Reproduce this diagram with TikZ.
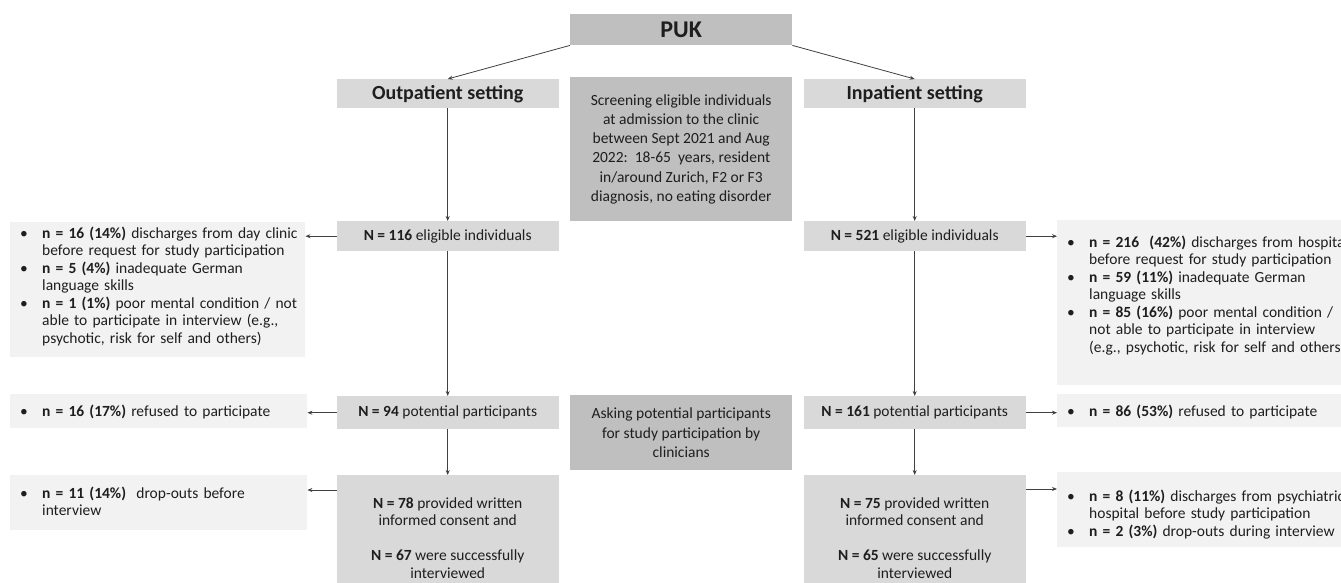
\documentclass[tikz,border=0pt]{standalone}
\usepackage{fontspec}
\setmainfont{Carlito}
\usepackage{tikz}
\usetikzlibrary{arrows.meta,positioning}
\definecolor{darkbox}{RGB}{191,191,191}
\definecolor{midbox}{RGB}{217,217,217}
\definecolor{lightbox}{RGB}{242,242,242}
\definecolor{inkgray}{RGB}{30,30,30}
\definecolor{linegray}{RGB}{64,64,64}
\newcommand{\bul}{\textbullet}

\begin{document}
\begin{tikzpicture}[x=1pt,y=-1pt,
    base/.style={anchor=north west,inner sep=0pt,text=inkgray,font=\fontsize{15.5}{17.5}\selectfont},
    setbox/.style={base,fill=midbox,minimum width=222pt,minimum height=29pt,font=\fontsize{20}{24}\selectfont\bfseries},
    countbox/.style={base,fill=midbox,minimum width=222pt,align=center},
    infobox/.style={base,fill=darkbox,minimum width=222pt,align=center,font=\fontsize{15.5}{19.3}\selectfont},
    exclbox/.style={base,fill=lightbox,inner xsep=10pt,align=left},
    arr/.style={draw=linegray,line width=0.8pt,-{Stealth[length=5pt,width=4pt]}}]
    \useasboundingbox (0,0) rectangle (1341,583);
    % top of the tree
    \node[base,fill=darkbox,minimum width=222pt,minimum height=31pt,font=\fontsize{24}{28}\selectfont\bfseries] (puk) at (570,14) {PUK};
    \node[setbox] (outset) at (336.5,79) {Outpatient setting};
    \node[setbox] (inset) at (803.5,79) {Inpatient setting};
    % middle column
    \node[infobox,minimum height=144pt] (screen) at (570,77) {Screening eligible individuals\\at admission to the clinic\\between Sept 2021 and Aug\\2022:\ \ 18-65\ \ years, resident\\in/around Zurich, F2 or F3\\diagnosis, no eating disorder};
    \node[infobox,minimum height=75pt] (asking) at (570,395) {Asking potential participants\\for study participation by\\clinicians};
    % counts
    \node[countbox,minimum height=30pt] (out116) at (336.5,221) {\textbf{N = 116} eligible individuals};
    \node[countbox,minimum height=30pt] (in521) at (803.5,221) {\textbf{N = 521} eligible individuals};
    \node[countbox,minimum height=33pt] (out94) at (336.5,396) {\textbf{N = 94} potential participants};
    \node[countbox,minimum height=33pt] (in161) at (803.5,396) {\textbf{N = 161} potential participants};
    \node[countbox,minimum height=125pt] (out78) at (336.5,475) {\textbf{N = 78} provided written\\informed consent and\\[17.5pt]\textbf{N = 67} were successfully\\interviewed};
    \node[countbox,minimum height=125pt] (in75) at (803.5,475) {\textbf{N = 75} provided written\\informed consent and\\[17.5pt]\textbf{N = 65} were successfully\\interviewed};
    % exclusions, left
    \node[exclbox,text width=275pt,text height=16pt,text depth=119pt] (outex1) at (10,222) {\begin{tabular}[t]{@{}p{22pt}@{}l@{}}
      \bul & \textbf{n = 16 (14\%)} discharges from day clinic\\
           & before request for study participation\\
      \bul & \textbf{n = 5 (4\%)} inadequate German\\
           & language skills\\
      \bul & \textbf{n = 1 (1\%)} poor mental condition / not\\
           & able to participate in interview (e.g.,\\
           & psychotic, risk for self and others)
    \end{tabular}};
    \node[exclbox,text width=277pt,text height=22pt,text depth=12pt] (outex2) at (10,394) {\begin{tabular}[t]{@{}p{22pt}@{}l@{}}
      \bul & \textbf{n = 16 (17\%)} refused to participate
    \end{tabular}};
    \node[exclbox,text width=277pt,text height=23pt,text depth=32pt] (outex3) at (10,475) {\begin{tabular}[t]{@{}p{22pt}@{}l@{}}
      \bul & \textbf{n = 11 (14\%)}\ \ drop-outs before\\
           & interview
    \end{tabular}};
    % exclusions, right
    \node[exclbox,text width=275pt,text height=27pt,text depth=138pt] (inex1) at (1057,220) {\begin{tabular}[t]{@{}p{22pt}@{}l@{}}
      \bul & \textbf{n = 216\ \ (42\%)} discharges from hospital\\
           & before request for study participation\\
      \bul & \textbf{n = 59 (11\%)} inadequate German\\
           & language skills\\
      \bul & \textbf{n = 85 (16\%)} poor mental condition /\\
           & not able to participate in interview\\
           & (e.g., psychotic, risk for self and others)
    \end{tabular}};
    \node[exclbox,text width=275pt,text height=22pt,text depth=11pt] (inex2) at (1057,394) {\begin{tabular}[t]{@{}p{22pt}@{}l@{}}
      \bul & \textbf{n = 86 (53\%)} refused to participate
    \end{tabular}};
    \node[exclbox,text width=275pt,text height=29pt,text depth=46pt] (inex3) at (1057,472) {\begin{tabular}[t]{@{}p{22pt}@{}l@{}}
      \bul & \textbf{n = 8 (11\%)} discharges from psychiatric\\
           & hospital before study participation\\
      \bul & \textbf{n = 2 (3\%)} drop-outs during interview
    \end{tabular}};
    % connectors
    \draw[arr] (puk.south west) -- (outset.north);
    \draw[arr] (puk.south east) -- (inset.north);
    \foreach \a/\b in {outset/out116,out116/out94,out94/out78,inset/in521,in521/in161,in161/in75}
      \draw[arr] (\a.south) -- (\b.north);
    \draw[arr] (out116.west) -- (out116.west -| outex1.east);
    \draw[arr] (out94.west) -- (out94.west -| outex2.east);
    \draw[arr] ([yshift=-15pt]out78.north west) -- ([yshift=-15pt]out78.north west -| outex3.east);
    \draw[arr] (in521.east) -- (in521.east -| inex1.west);
    \draw[arr] (in161.east) -- (in161.east -| inex2.west);
    \draw[arr] ([yshift=-14pt]in75.north east) -- ([yshift=-14pt]in75.north east -| inex3.west);
\end{tikzpicture}
\end{document}
